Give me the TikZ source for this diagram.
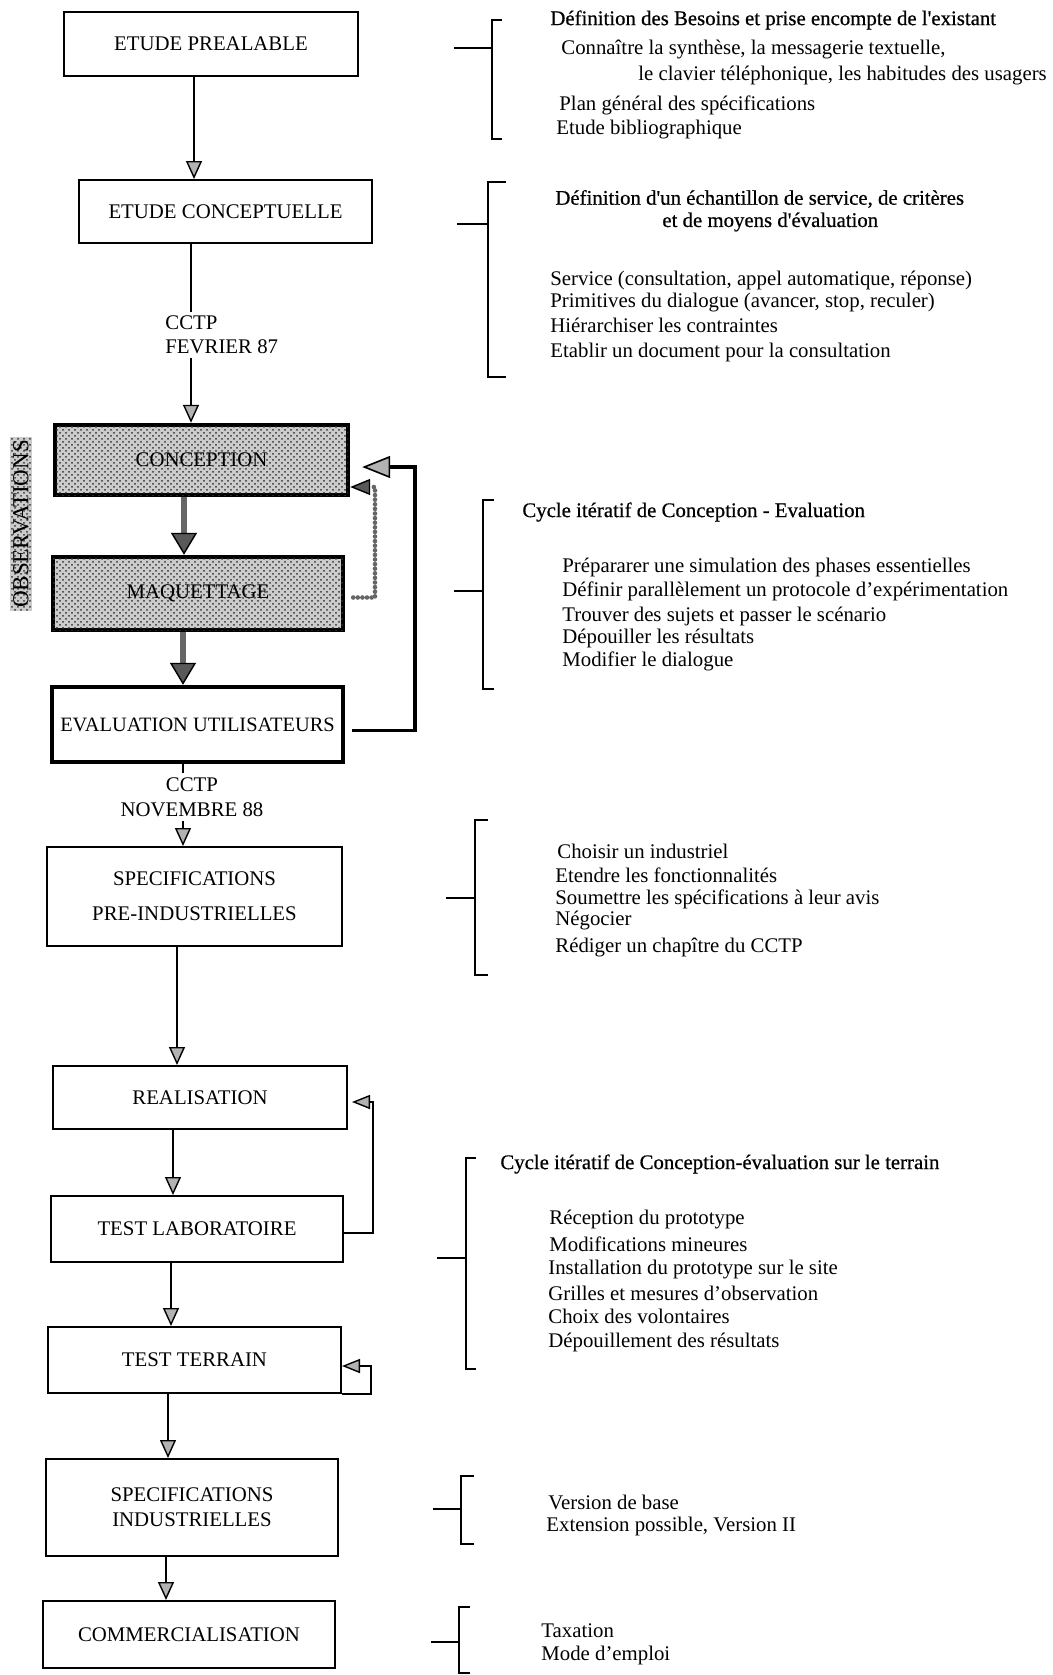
\documentclass[tikz,border=0pt]{standalone}
\usepackage{fontspec}
\setmainfont{Liberation Serif}
\newfontfamily\headfont[FakeBold=0.6]{Liberation Serif}
\usetikzlibrary{arrows.meta,patterns}
\begin{document}
\begin{tikzpicture}[x=0.5pt,y=-0.5pt,
  every node/.style={font=\fontsize{10.4}{12}\selectfont},
  stepbox/.style={draw,line width=1pt,inner sep=0pt,align=center},
  graybox/.style={stepbox,line width=2.2pt,fill=black!20,postaction={pattern=crosshatch dots,pattern color=black!80}},
  thickbox/.style={stepbox,line width=2.2pt},
  txt/.style={anchor=west,inner sep=0pt},
  head/.style={txt,font=\headfont\fontsize{10.4}{12}\selectfont},
  plain/.style={line width=0.9pt},
  arr/.style={line width=0.9pt,-{Triangle[width=8pt,length=9pt,fill=black!30,line width=0.7pt]}},
  bigarr/.style={line width=3pt,draw=black!60,-{Triangle[width=13pt,length=11pt,fill=black!65,color=black,line width=0.7pt]}},
  dotloop/.style={line width=2.3pt,draw=black!60,line cap=round,dash pattern=on 0pt off 2.3pt,-{Triangle[width=8pt,length=10pt,fill=black!65,color=black,line width=0.7pt]}},
  fbthick/.style={line width=1.9pt,-{Triangle[width=11pt,length=14pt,fill=black!30,color=black,line width=0.8pt]}},
  fbthin/.style={line width=0.9pt,-{Triangle[width=7pt,length=9pt,fill=black!30,line width=0.7pt]}},
  brk/.style={line width=0.9pt}
]
\useasboundingbox (0,0) rectangle (1053,1675);

% ---------- left column boxes ----------
\node[stepbox,minimum width=147pt,minimum height=32pt] (pre) at (211,44) {ETUDE PREALABLE};
\node[stepbox,minimum width=146.5pt,minimum height=31.5pt] (concept) at (225.5,211.5) {ETUDE CONCEPTUELLE};
\node[graybox,minimum width=146.5pt,minimum height=35pt] (conception) at (201.5,460) {CONCEPTION};
\node[graybox,minimum width=145pt,minimum height=36.5pt] (maq) at (198,593.5) {MAQUETTAGE};
\node[thickbox,minimum width=145.5pt,minimum height=37.5pt,font=\fontsize{10.2}{12}\selectfont] (eval) at (197.5,724.5) {EVALUATION UTILISATEURS};
\node[stepbox,minimum width=147.5pt,minimum height=49.5pt,font=\fontsize{10.4}{17.5}\selectfont] (specpre) at (194.5,896.5) {SPECIFICATIONS\\PRE-INDUSTRIELLES};
\node[stepbox,minimum width=147pt,minimum height=31.5pt] (real) at (200,1097.5) {REALISATION};
\node[stepbox,minimum width=146pt,minimum height=33pt] (testlab) at (197,1229) {TEST LABORATOIRE};
\node[stepbox,minimum width=146.5pt,minimum height=33pt] (testter) at (194.5,1360) {TEST TERRAIN};
\node[stepbox,minimum width=146pt,minimum height=48.5pt,font=\fontsize{10.4}{12.5}\selectfont] (specind) at (192,1507.5) {SPECIFICATIONS\\INDUSTRIELLES};
\node[stepbox,minimum width=146pt,minimum height=33.5pt] (comm) at (189,1634.5) {COMMERCIALISATION};

% OBSERVATIONS label
\node[rotate=90,inner sep=1.5pt,fill=black!20,postaction={pattern=crosshatch dots,pattern color=black!80},font=\fontsize{11.5}{12}\selectfont] (obs) at (21,524) {OBSERVATIONS};

% milestone labels
\node[anchor=west,align=left,inner sep=2pt] (cctpA) at (161,335) {CCTP\\FEVRIER 87};
\node[align=center,inner sep=2pt,font=\fontsize{10.4}{12.5}\selectfont] (cctpB) at (192,797) {CCTP\\NOVEMBRE 88};

% ---------- connectors ----------
\coordinate (xa) at (194,0);
\coordinate (xb) at (191,0);
\coordinate (xc) at (184,0);
\coordinate (xd) at (183,0);
\coordinate (xe) at (177,0);
\coordinate (xf) at (173,0);
\coordinate (xg) at (171,0);
\coordinate (xh) at (168,0);
\coordinate (xi) at (166,0);

\draw[arr] (xa |- pre.south) -- (xa |- concept.north);
\draw[plain] (xb |- concept.south) -- (xb |- cctpA.north);
\draw[arr] (xb |- cctpA.south) -- (xb |- conception.north);
\draw[bigarr] (xc |- conception.south) -- (xc |- maq.north);
\draw[bigarr] (xd |- maq.south) -- (xd |- eval.north);
\draw[plain] (xd |- eval.south) -- (xd |- cctpB.north);
\draw[arr] (xd |- cctpB.south) -- (xd |- specpre.north);
\draw[arr] (xe |- specpre.south) -- (xe |- real.north);
\draw[arr] (xf |- real.south) -- (xf |- testlab.north);
\draw[arr] (xg |- testlab.south) -- (xg |- testter.north);
\draw[arr] (xh |- testter.south) -- (xh |- specind.north);
\draw[arr] (xi |- specind.south) -- (xi |- comm.north);

% feedback loops
\coordinate (dl) at (375,487);
\draw[dotloop,shorten <=4pt] ([yshift=-2pt]maq.east) -| (dl) -- (conception.east |- dl);
\coordinate (fl) at (415,467);
\draw[fbthick,shorten >=6pt] ([xshift=3.5pt,yshift=-3pt]eval.east) -| (fl) -- (conception.east |- fl);
\coordinate (rl) at (373,1102);
\draw[fbthin,shorten >=2pt] ([yshift=-2pt]testlab.east) -| (rl) -- (real.east |- rl);
\coordinate (tl) at (371,1366);
\draw[fbthin] (testter.south east) -| (tl) -- (testter.east |- tl);

% ---------- brackets ----------
\draw[brk] (454,48) -- (492,48);
\draw[brk] (502,20) -- (492,20) -- (492,139) -- (502,139);
\draw[brk] (457,224) -- (488,224);
\draw[brk] (506,182) -- (488,182) -- (488,377) -- (506,377);
\draw[brk] (454,591) -- (483,591);
\draw[brk] (494,500) -- (483,500) -- (483,689) -- (494,689);
\draw[brk] (446,898) -- (475,898);
\draw[brk] (488,820) -- (475,820) -- (475,975) -- (488,975);
\draw[brk] (437,1258) -- (466,1258);
\draw[brk] (476,1158) -- (466,1158) -- (466,1369) -- (476,1369);
\draw[brk] (433,1509) -- (461,1509);
\draw[brk] (474,1476) -- (461,1476) -- (461,1544) -- (474,1544);
\draw[brk] (431,1642) -- (459,1642);
\draw[brk] (470,1607) -- (459,1607) -- (459,1673) -- (470,1673);

% ---------- right column texts ----------
\node[head] (t1) at (550,20) {Définition des Besoins et prise encompte de l'existant};
\node[txt] (t2) at (561,50) {Connaître la synthèse, la messagerie textuelle,};
\node[txt] (t3) at (638,76) {le clavier téléphonique, les habitudes des usagers};
\node[txt] (t4) at (559,105) {Plan général des spécifications};
\node[txt] (t5) at (556,130) {Etude bibliographique};

\node[head] (t6) at (555,199) {Définition d'un échantillon de service, de critères};
\node[head] (t7) at (662,222) {et de moyens d'évaluation};
\node[txt] (t8) at (550,280) {Service (consultation, appel automatique, réponse)};
\node[txt] (t9) at (550,303) {Primitives du dialogue (avancer, stop, reculer)};
\node[txt] (t10) at (550,325) {Hiérarchiser les contraintes};
\node[txt] (t11) at (550,352) {Etablir un document pour la consultation};

\node[head] (t12) at (522,512) {Cycle itératif de Conception - Evaluation};
\node[txt] (t13) at (562,567) {Prépararer une simulation des phases essentielles};
\node[txt] (t14) at (562,591) {Définir parallèlement un protocole d'expérimentation};
\node[txt] (t15) at (562,616) {Trouver des sujets et passer le scénario};
\node[txt] (t16) at (562,638) {Dépouiller les résultats};
\node[txt] (t17) at (562,661) {Modifier le dialogue};

\node[txt] (t18) at (557,851) {Choisir un industriel};
\node[txt] (t19) at (555,875) {Etendre les fonctionnalités};
\node[txt] (t20) at (555,899) {Soumettre les spécifications à leur avis};
\node[txt] (t21) at (555,921) {Négocier};
\node[txt] (t22) at (555,947) {Rédiger un chapître du CCTP};

\node[head] (t23) at (500,1164) {Cycle itératif de Conception-évaluation sur le terrain};
\node[txt] (t24) at (549,1219) {Réception du prototype};
\node[txt] (t25) at (549,1244) {Modifications mineures};
\node[txt] (t26) at (548,1270) {Installation du prototype sur le site};
\node[txt] (t27) at (548,1293) {Grilles et mesures d'observation};
\node[txt] (t28) at (548,1316) {Choix des volontaires};
\node[txt] (t29) at (548,1342) {Dépouillement des résultats};

\node[txt] (t30) at (548,1502) {Version de base};
\node[txt] (t31) at (546,1526) {Extension possible, Version II};

\node[txt] (t32) at (541,1631) {Taxation};
\node[txt] (t33) at (541,1655) {Mode d'emploi};
\end{tikzpicture}
\end{document}
